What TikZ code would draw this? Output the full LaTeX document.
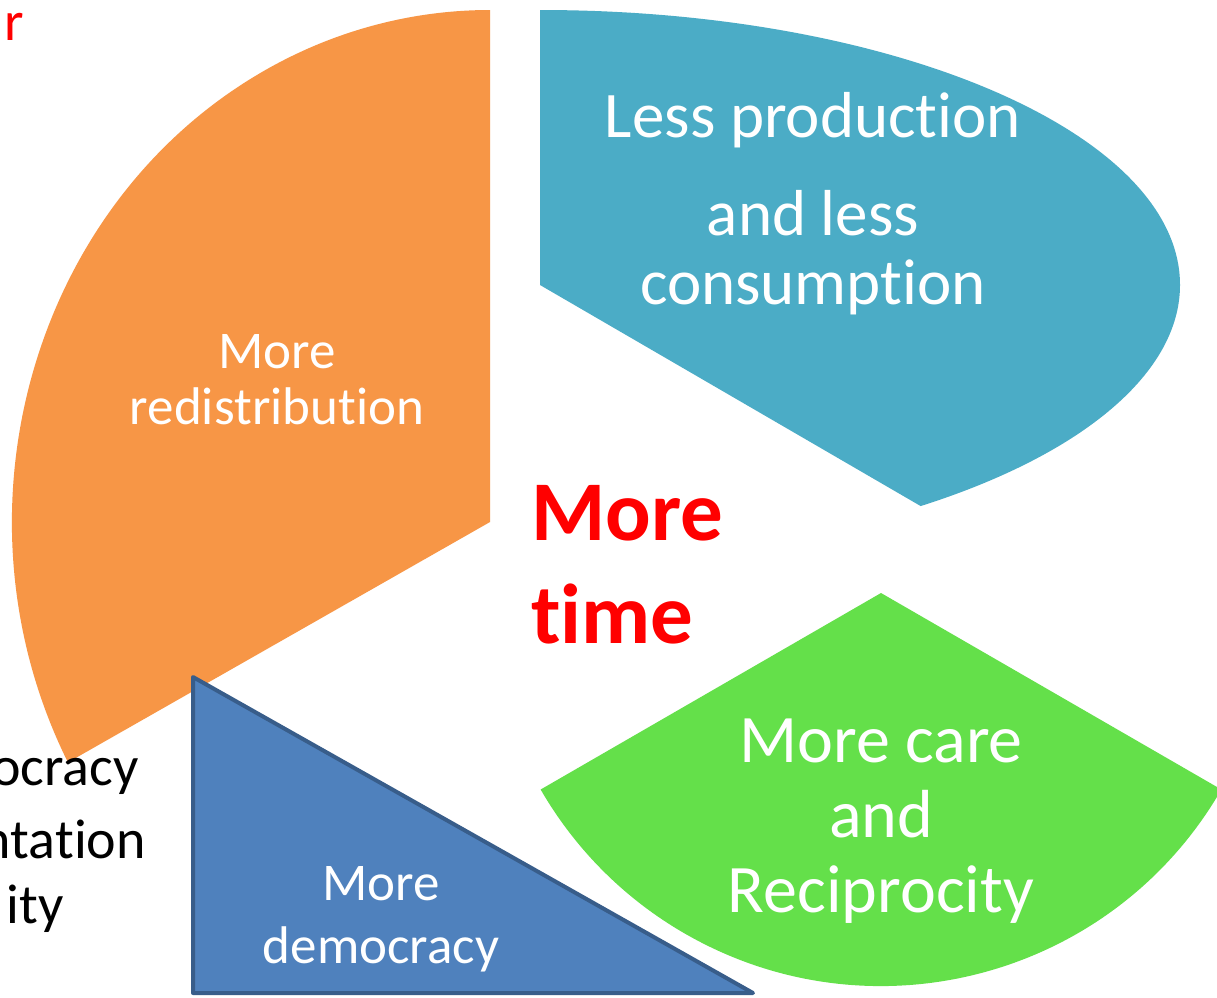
\documentclass[tikz,border=0pt]{standalone}
\usepackage{fontspec}
\setmainfont{Carlito}[RawFeature={-liga}]
\definecolor{orangeF}{HTML}{F79646}
\definecolor{tealF}{HTML}{4BACC6}
\definecolor{greenF}{HTML}{64E04A}
\definecolor{blueF}{HTML}{4F81BD}
\definecolor{blueD}{HTML}{385D8A}
\definecolor{redT}{HTML}{FF0000}
\tikzset{
  wtxt/.style={text=white, inner sep=0pt, anchor=base},
  btxt/.style={text=black, inner sep=0pt, anchor=base east, font=\fontsize{56}{60}\selectfont},
  rtxt/.style={text=redT, inner sep=0pt, anchor=base west, font=\fontsize{85}{90}\selectfont\bfseries},
}
\begin{document}
\begin{tikzpicture}[x=1pt,y=-1pt]
\useasboundingbox (0,0) rectangle (1217,997);
\clip (0,0) rectangle (1217,997);
\fill[white] (0,0) rectangle (1217,997);
% orange sector
\fill[orangeF] (490,522) -- +(152:478 and 512) arc[start angle=152,end angle=270,x radius=478,y radius=512] -- cycle;
% teal sector
\fill[tealF] (540,285) -- (540,10) arc[start angle=-90,end angle=53.5,x radius=640,y radius=275] -- cycle;
% green sector
\fill[greenF] (881,593) -- +(30:393) arc[start angle=30,end angle=150,radius=393] -- cycle;
% blue triangle
\draw[fill=blueF, draw=blueD, line width=4pt, line join=round] (193,677) -- (193,993) -- (753,993) -- cycle;
% texts
\node[wtxt, font=\fontsize{65}{70}\selectfont] (t1) at (813,137) {Less production};
\node[wtxt, font=\fontsize{65}{70}\selectfont] (t2) at (813,235) {and less};
\node[wtxt, font=\fontsize{65}{70}\selectfont] (t3) at (813,304) {consumption};
\node[wtxt, font=\fontsize{68}{70}\selectfont] (g1) at (881,762) {More care};
\node[wtxt, font=\fontsize{68}{70}\selectfont] (g2) at (881,837) {and};
\node[wtxt, font=\fontsize{68}{70}\selectfont] (g3) at (881,912) {Reciprocity};
\node[wtxt, font=\fontsize{53}{55}\selectfont] (o1) at (277,368) {More};
\node[wtxt, font=\fontsize{53}{55}\selectfont] (o2) at (277,424) {redistribution};
\node[wtxt, font=\fontsize{53}{55}\selectfont] (b1) at (381,900) {More};
\node[wtxt, font=\fontsize{53}{55}\selectfont] (b2) at (381,963) {democracy};
\node[rtxt] (m1) at (531,540) {More};
\node[rtxt] (m2) at (531,643) {time};
% cut-off texts at left edge
\node[btxt, text=redT] (r1) at (24,40) {r};
\node[btxt] (c1) at (4,595) {:};
\node[btxt] (l1) at (139,785) {ocracy};
\node[btxt] (l2) at (146,858) {ntation};
\node[btxt] (l3) at (64,923) {ity};
\end{tikzpicture}
\end{document}
